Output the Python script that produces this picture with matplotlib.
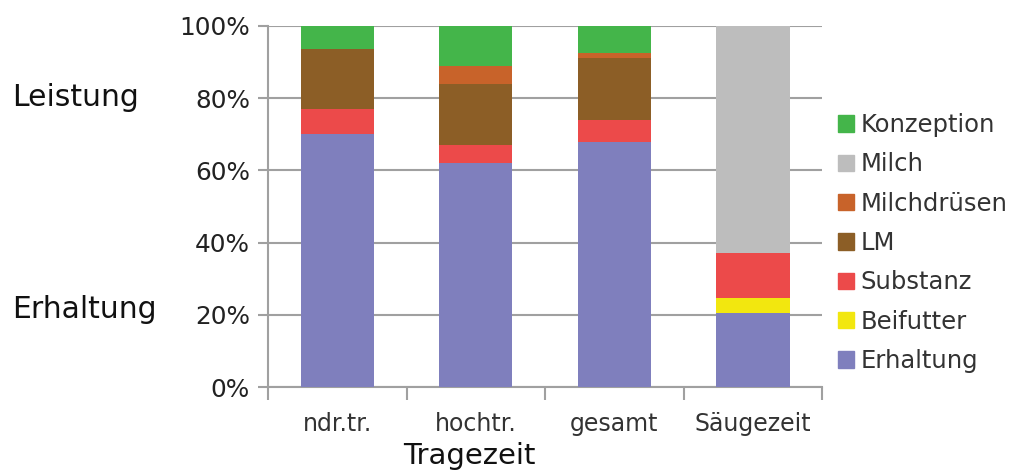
import matplotlib
matplotlib.use("Agg")
import matplotlib.pyplot as plt
import numpy as np
from matplotlib.patches import Patch

categories = ["ndr.tr.", "hochtr.", "gesamt", "Säugezeit"]
erhaltung = [70, 62, 68, 20.5]
beifutter = [0, 0, 0, 4.3]
substanz = [7, 5, 6, 12.2]
lm = [16.5, 17, 17, 0]
milchdruesen = [0, 5, 1.5, 0]
milch = [0, 0, 0, 63]
konzeption = [6.5, 11, 7.5, 0]

series = [
    ("Erhaltung", erhaltung, "#7F7FBD"),
    ("Beifutter", beifutter, "#F2E70F"),
    ("Substanz", substanz, "#EC4A4A"),
    ("LM", lm, "#8C5E26"),
    ("Milchdrüsen", milchdruesen, "#C8632A"),
    ("Milch", milch, "#BDBDBD"),
    ("Konzeption", konzeption, "#44B54A"),
]
yticks = [0, 20, 40, 60, 80, 100]
ytick_labels = ["0%", "20%", "40%", "60%", "80%", "100%"]

plt.rcParams['font.family'] = ['DejaVu Sans']
fig = plt.figure(figsize=(10.13, 4.71), dpi=100)
ax = fig.add_axes([0.2646, 0.178, 0.5469, 0.767])

x = np.arange(len(categories))
bottom = np.zeros(len(categories))
for name, vals, col in series:
    v = np.array(vals, dtype=float)
    ax.bar(x, v, bottom=bottom, width=0.53, color=col, label=name, zorder=3)
    bottom += v

ax.set_xlim(-0.5, len(categories) - 0.5)
ax.set_ylim(0, 100)
ax.set_yticks(yticks)
ax.set_yticklabels(ytick_labels, fontsize=17.8, color="#222222")
ax.yaxis.grid(True, color="#A0A0A0", lw=1.5, zorder=0)
ax.tick_params(axis='y', length=7, width=1.5, color="#A0A0A0", pad=6)

ax.set_xticks(x)
ax.set_xticklabels(categories, fontsize=17, color="#333333")
ax.set_xticks(np.arange(-0.5, len(categories)), minor=True)
ax.tick_params(axis='x', which='major', length=0, pad=18)
ax.tick_params(axis='x', which='minor', length=9, width=1.5, color="#A0A0A0")

for s in ["top", "right"]:
    ax.spines[s].set_visible(False)
for s in ["left", "bottom"]:
    ax.spines[s].set_color("#A0A0A0")
    ax.spines[s].set_linewidth(1.5)

fig.text(469 / 1013, 1 - 464 / 471, "Tragezeit", fontsize=21, ha="center", va="baseline", color="#111111")
fig.text(12 / 1013, 1 - 105.5 / 471, "Leistung", fontsize=21.5, ha="left", va="baseline", color="#111111")
fig.text(12 / 1013, 1 - 318 / 471, "Erhaltung", fontsize=21.5, ha="left", va="baseline", color="#111111")

handles = [Patch(color=col, label=name) for name, vals, col in series[::-1]]
fig.legend(handles=handles, loc="center left", bbox_to_anchor=(838 / 1013, 1 - 243 / 471),
           frameon=False, fontsize=17.5, handlelength=0.66, handleheight=0.66,
           handletextpad=0.28, labelspacing=0.63, borderpad=0, borderaxespad=0,
           labelcolor="#333333")

fig.savefig("out.png", dpi=100)
